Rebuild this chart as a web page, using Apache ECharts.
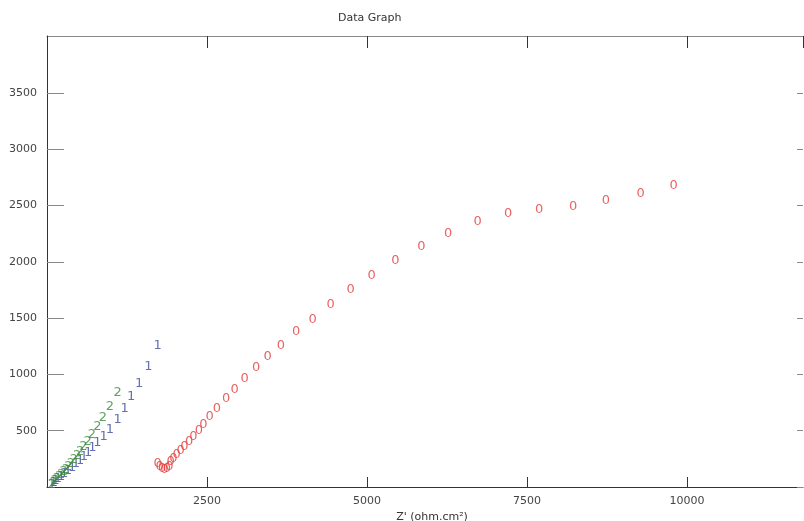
<!DOCTYPE html>
<html>
<head>
<meta charset="utf-8">
<script src="https://cdn.jsdelivr.net/npm/echarts@6/dist/echarts.min.js"></script>
<style>html,body{margin:0;padding:0;background:#fff}#c{width:804px;height:521px}</style>
</head>
<body>
<div id="c"></div>
<script>
// Series 0 (red, marker "0")
const s0x = [1727,1758,1797,1836,1875,1914,1933,1973,2027,2089,2145,2219,2286,2375,2442,2542,2656,2797,2933,3089,3266,3448,3656,3891,4152,4433,4745,5073,5442,5848,6266,6727,7203,7688,8219,8734,9277,9792];
const s0y = [211,185,167,158,167,185,222,249,289,325,360,405,449,500,556,621,692,781,864,959,1062,1154,1257,1376,1489,1624,1749,1875,2011,2136,2254,2357,2430,2468,2492,2541,2610,2677];
// Series 1 (blue, marker "1")
const s1x = [1730,1583,1438,1313,1214,1102,984,883,789,711,641,578,516,453,391,328,266,219,172,133,102,78];
const s1y = [1254,1068,917,802,696,598,509,447,394,349,305,270,234,207,172,146,118,91,73,56,38,25];
// Series 2 (green, marker "2")
const s2x = [1105,984,875,789,703,633,570,516,469,422,375,336,297,258,219,188,156,125,102,78];
const s2y = [834,713,615,540,469,407,358,314,278,242,211,185,158,136,114,91,73,56,38,25];

const xTicks = [2500,5000,7500,10000];
const yTicks = [500,1000,1500,2000,2500,3000,3500];

const font = 'DejaVu Sans, Verdana, sans-serif';
function pts(xs, ys){ return xs.map((x,i)=>[x, ys[i]]); }
function mk(name, xs, ys, color, ch){
  return {
    type:'scatter', name, data: pts(xs, ys), symbol:'circle', symbolSize:1,
    itemStyle:{color:'rgba(0,0,0,0)'},
    label:{show:true, position:'inside', formatter:ch, color, fontSize:13, fontFamily:font},
    emphasis:{disabled:true}, silent:true
  };
}
const chart = echarts.init(document.getElementById('c'), null, {renderer:'canvas'});
const axisLbl = {color:'#444', fontSize:11, fontFamily:font, showMinLabel:false, showMaxLabel:false};
chart.setOption({
  animation:false,
  backgroundColor:'#fff',
  title:{text:'Data Graph', left:333, top:8, textStyle:{fontSize:11, fontWeight:'normal', color:'#333', fontFamily:font}},
  grid:{left:47, right:1, top:36, bottom:34, containLabel:false, outerBoundsMode:'none'},
  xAxis:[
    {type:'value', position:'bottom', min:0, max:11812, interval:2500,
     axisLine:{show:true, onZero:false, lineStyle:{color:'#333'}},
     axisTick:{show:true, inside:true, length:10, lineStyle:{color:'#333'}},
     axisLabel:Object.assign({margin:9, formatter:v=>xTicks.includes(v)?String(v):''}, axisLbl),
     splitLine:{show:false},
     name:"Z' (ohm.cm²)", nameLocation:'middle', nameGap:17,
     nameTextStyle:{fontSize:11, color:'#333', fontFamily:font, padding:[0,0,0,14]}},
    {type:'value', position:'top', min:0, max:11812, interval:2500,
     axisLine:{show:true, onZero:false, lineStyle:{color:'#888'}},
     axisTick:{show:true, inside:true, length:12, lineStyle:{color:'#333'}},
     axisLabel:{show:false}, splitLine:{show:false}}
  ],
  yAxis:[
    {type:'value', position:'left', min:0, max:4006, interval:500,
     axisLine:{show:true, onZero:false, lineStyle:{color:'#333'}},
     axisTick:{show:true, inside:true, length:17, lineStyle:{color:'#888'}},
     axisLabel:Object.assign({margin:10, formatter:v=>yTicks.includes(v)?String(v):''}, axisLbl),
     splitLine:{show:false}},
    {type:'value', position:'right', min:0, max:4006, interval:500,
     axisLine:{show:false, onZero:false},
     axisTick:{show:true, inside:true, length:6, lineStyle:{color:'#888'}},
     axisLabel:{show:false}, splitLine:{show:false}}
  ],
  series:[
    mk('0', s0x, s0y, '#e23c3c', '0'),
    mk('1', s1x, s1y, '#3b4c9e', '1'),
    mk('2', s2x, s2y, '#3a8a3a', '2')
  ]
});
</script>
</body>
</html>
